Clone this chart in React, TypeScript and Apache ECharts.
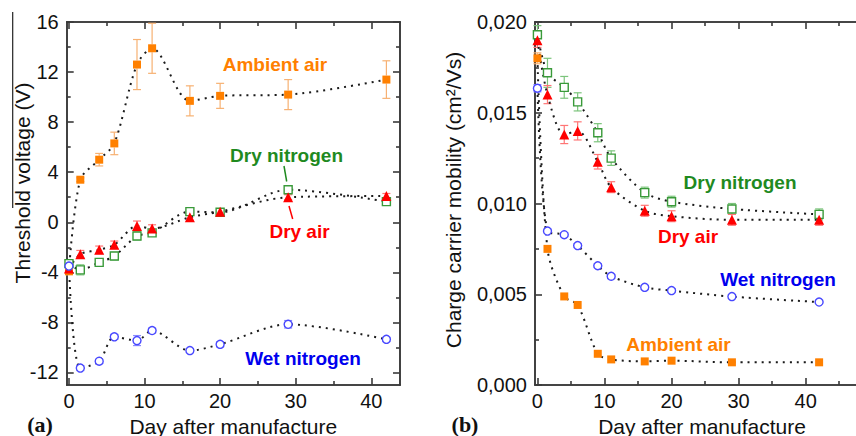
import React, { useEffect, useRef } from "react";
import * as echarts from "echarts";

// ---------- data ----------
const days = [0, 1.5, 4, 6, 9, 11, 16, 20, 29, 42];

// (a) threshold voltage (V)
const vthAmbient = [-3.9, 3.4, 5.0, 6.3, 12.6, 13.9, 9.7, 10.1, 10.2, 11.4];
const vthAmbientErr = [0.3, 0.15, 0.5, 0.9, 2.0, 2.0, 1.2, 1.0, 1.2, 1.5];
const vthDryN2 = [-3.3, -3.8, -3.2, -2.7, -1.1, -0.85, 0.85, 0.8, 2.6, 1.65];
const vthDryN2Err = [0.3, 0.4, 0.2, 0.3, 0.3, 0.2, 0.2, 0.2, 0.2, 0.2];
const vthDryAir = [-3.7, -2.55, -2.2, -1.8, -0.3, -0.5, 0.4, 0.85, 2.0, 2.1];
const vthDryAirErr = [0.3, 0.3, 0.3, 0.3, 0.4, 0.3, 0.3, 0.2, 0.2, 0.2];
const vthWetN2 = [-3.5, -11.65, -11.1, -9.15, -9.45, -8.65, -10.25, -9.75, -8.15, -9.35];
const vthWetN2Err = [0.3, 0.2, 0.15, 0.2, 0.4, 0.2, 0.15, 0.2, 0.3, 0.15];

// (b) charge carrier mobility (cm²/Vs)
const muAmbient = [0.018, 0.0075, 0.00488, 0.00441, 0.00172, 0.00141, 0.0013, 0.00134, 0.00125, 0.00125];
const muAmbientErr = [0.0003, 0, 0, 0, 0, 0, 0, 0, 0, 0];
const muWetN2 = [0.01635, 0.00848, 0.00828, 0.00768, 0.00657, 0.00599, 0.00538, 0.0052, 0.00487, 0.00457];
const muWetN2Err = [0.0002, 0.0001, 0.0001, 0.0001, 0.0001, 0.0001, 0.0001, 0.0001, 0.0001, 0];
const muDryN2 = [0.0193, 0.0172, 0.0164, 0.0156, 0.0139, 0.0125, 0.0106, 0.0101, 0.0097, 0.0094];
const muDryN2Err = [0.0005, 0.0008, 0.0006, 0.0005, 0.0005, 0.0004, 0.0003, 0.0003, 0.0003, 0.0003];
const muDryAir = [0.019, 0.016, 0.0138, 0.014, 0.0123, 0.0109, 0.0096, 0.0093, 0.0091, 0.0091];
const muDryAirErr = [0.0004, 0.0005, 0.0005, 0.0005, 0.0004, 0.0003, 0.0003, 0.0003, 0.0003, 0.0003];

// ticks
const xMajor = [0, 10, 20, 30, 40];
const xMinorA = [5, 15, 25, 35];
const xMinorB = [5, 15, 25, 35, 45];
const vthMajor = [-12, -8, -4, 0, 4, 8, 12, 16];
const vthMinor = [-10, -6, -2, 2, 6, 10, 14];
const muMajor = [0, 0.005, 0.01, 0.015, 0.02];
const muMinor = [0.0025, 0.0075, 0.0125, 0.0175];

const FONT = "Liberation Sans, Arial, sans-serif";
const AXIS = "#3a3a3a";

function axis(
  dim: "x" | "y",
  gridIndex: number,
  position: string,
  min: number,
  max: number,
  ticks: number[],
  len: number,
  labels: boolean,
  fmt?: (v: number) => string
) {
  return {
    type: "value",
    gridIndex,
    position,
    min,
    max,
    axisLine: { show: true, onZero: false, lineStyle: { color: AXIS, width: 1.6 } },
    axisTick: {
      show: true,
      inside: true,
      length: len,
      customValues: ticks,
      lineStyle: { color: AXIS, width: 1.6 },
    },
    axisLabel: {
      show: labels,
      customValues: ticks,
      fontSize: 20,
      fontFamily: FONT,
      color: "#111",
      margin: dim === "x" ? 6 : 8,
      formatter: fmt,
      showMinLabel: true,
      showMaxLabel: true,
    },
    splitLine: { show: false },
  };
}

function errSeries(xi: number, yi: number, vals: number[], errs: number[], color: string, half: number) {
  return {
    type: "custom",
    xAxisIndex: xi,
    yAxisIndex: yi,
    z: 2,
    silent: true,
    data: days.map((d, i) => [d, vals[i] - errs[i], vals[i] + errs[i], errs[i], vals[i]]),
    renderItem: (params: any, api: any) => {
      if (api.value(3) <= 0) return null;
      const lo = api.coord([api.value(0), api.value(1)]);
      const hi = api.coord([api.value(0), api.value(2)]);
      const c = api.coord([api.value(0), api.value(4)]);
      const cap = 4;
      const st = { stroke: color, lineWidth: 1.2 };
      const children: any[] = [
        { type: "line", shape: { x1: lo[0] - cap, y1: lo[1], x2: lo[0] + cap, y2: lo[1] }, style: st },
        { type: "line", shape: { x1: hi[0] - cap, y1: hi[1], x2: hi[0] + cap, y2: hi[1] }, style: st },
      ];
      if (lo[1] > c[1] + half) {
        children.push({ type: "line", shape: { x1: lo[0], y1: lo[1], x2: lo[0], y2: c[1] + half }, style: st });
      }
      if (hi[1] < c[1] - half) {
        children.push({ type: "line", shape: { x1: hi[0], y1: hi[1], x2: hi[0], y2: c[1] - half }, style: st });
      }
      return { type: "group", children };
    },
  };
}

function lineSeries(
  xi: number,
  yi: number,
  vals: number[],
  symbol: string,
  size: number,
  fill: string,
  border: string
) {
  return {
    type: "line",
    xAxisIndex: xi,
    yAxisIndex: yi,
    z: 3,
    smooth: 0.3,
    data: days.map((d, i) => [d, vals[i]]),
    symbol,
    symbolSize: size,
    showSymbol: true,
    itemStyle: { color: fill, borderColor: border, borderWidth: fill === "#ffffff" ? 1.4 : 0 },
    lineStyle: { color: "#1a1a1a", width: 2, type: [2, 5] },
  };
}

const ORANGE = "#ff8000";
const ORANGE_E = "#f7b172";
const GREEN = "#3a9a3a";
const GREEN_E = "#7cc47c";
const RED = "#ff0000";
const RED_E = "#ff7575";
const BLUE = "#4848ff";
const BLUE_E = "#8a8aff";
const WHITE = "#ffffff";

export default function App() {
  const ref = useRef<HTMLDivElement>(null);
  useEffect(() => {
    if (!ref.current) return;
    const chart = echarts.init(ref.current, undefined, { renderer: "svg" });
    const aMin = -0.3,
      aMax = 43.8,
      bMin = -0.36,
      bMax = 47.5;
    const vMin = -13,
      vMax = 16;
    const muFmt = (v: number) => v.toFixed(3).replace(".", ",");
    const vFmt = (v: number) => String(Math.round(v));
    const xFmt = (v: number) => String(Math.round(v));

    const option: any = {
      animation: false,
      backgroundColor: "#ffffff",
      grid: [
        { left: 66.7, top: 22, width: 333.3, height: 363 },
        { left: 535, top: 22, width: 335, height: 363 },
      ],
      xAxis: [
        axis("x", 0, "bottom", aMin, aMax, xMajor, 7, true, xFmt),
        axis("x", 0, "bottom", aMin, aMax, xMinorA, 4, false),
        axis("x", 0, "top", aMin, aMax, xMajor, 7, false),
        axis("x", 0, "top", aMin, aMax, xMinorA, 4, false),
        axis("x", 1, "bottom", bMin, bMax, xMajor, 7, true, xFmt),
        axis("x", 1, "bottom", bMin, bMax, xMinorB, 4, false),
        axis("x", 1, "top", bMin, bMax, xMajor, 7, false),
        axis("x", 1, "top", bMin, bMax, xMinorB, 4, false),
      ],
      yAxis: [
        axis("y", 0, "left", vMin, vMax, vthMajor, 7, true, vFmt),
        axis("y", 0, "left", vMin, vMax, vthMinor, 4, false),
        axis("y", 0, "right", vMin, vMax, vthMajor, 7, false),
        axis("y", 0, "right", vMin, vMax, vthMinor, 4, false),
        axis("y", 1, "left", 0, 0.02, muMajor, 7, true, muFmt),
        axis("y", 1, "left", 0, 0.02, muMinor, 4, false),
      ],
      series: [
        errSeries(0, 0, vthAmbient, vthAmbientErr, ORANGE_E, 4),
        errSeries(0, 0, vthDryN2, vthDryN2Err, GREEN_E, 4),
        errSeries(0, 0, vthDryAir, vthDryAirErr, RED_E, 4),
        errSeries(0, 0, vthWetN2, vthWetN2Err, BLUE_E, 4),
        lineSeries(0, 0, vthAmbient, "rect", 8, ORANGE, ORANGE),
        lineSeries(0, 0, vthDryN2, "rect", 8, WHITE, GREEN),
        lineSeries(0, 0, vthDryAir, "triangle", 10, RED, RED),
        lineSeries(0, 0, vthWetN2, "circle", 8, WHITE, BLUE),

        errSeries(4, 4, muAmbient, muAmbientErr, ORANGE_E, 4),
        errSeries(4, 4, muDryN2, muDryN2Err, GREEN_E, 4),
        errSeries(4, 4, muDryAir, muDryAirErr, RED_E, 4),
        errSeries(4, 4, muWetN2, muWetN2Err, BLUE_E, 4),
        lineSeries(4, 4, muAmbient, "rect", 8, ORANGE, ORANGE),
        lineSeries(4, 4, muDryN2, "rect", 8, WHITE, GREEN),
        lineSeries(4, 4, muDryAir, "triangle", 10, RED, RED),
        lineSeries(4, 4, muWetN2, "circle", 8, WHITE, BLUE),
      ],
      graphic: [
        // scan artifact line near left title
        { type: "line", shape: { x1: 12.7, y1: 12, x2: 12.7, y2: 208 }, style: { stroke: "#222", lineWidth: 1.2 } },
        // axis titles
        {
          type: "text",
          x: 22,
          y: 183,
          rotation: Math.PI / 2,
          style: {
            text: "Threshold voltage (V)",
            fontSize: 21,
            fontFamily: FONT,
            fill: "#111",
            textAlign: "center",
            textVerticalAlign: "middle",
          },
        },
        {
          type: "text",
          x: 453,
          y: 200,
          rotation: Math.PI / 2,
          style: {
            text: "Charge carrier mobility (cm²/Vs)",
            fontSize: 21,
            fontFamily: FONT,
            fill: "#111",
            textAlign: "center",
            textVerticalAlign: "middle",
          },
        },
        {
          type: "text",
          x: 233.3,
          y: 426,
          style: { text: "Day after manufacture", fontSize: 21, fontFamily: FONT, fill: "#111", textAlign: "center", textVerticalAlign: "middle" },
        },
        {
          type: "text",
          x: 702,
          y: 426,
          style: { text: "Day after manufacture", fontSize: 21, fontFamily: FONT, fill: "#111", textAlign: "center", textVerticalAlign: "middle" },
        },
        {
          type: "text",
          x: 40,
          y: 424,
          style: { text: "(a)", fontSize: 22, fontWeight: "bold", fontFamily: "Liberation Serif, Times New Roman, serif", fill: "#111", textAlign: "center", textVerticalAlign: "middle" },
        },
        {
          type: "text",
          x: 465,
          y: 424,
          style: { text: "(b)", fontSize: 22, fontWeight: "bold", fontFamily: "Liberation Serif, Times New Roman, serif", fill: "#111", textAlign: "center", textVerticalAlign: "middle" },
        },
        // panel (a) labels
        { type: "text", x: 275, y: 64, style: { text: "Ambient air", fontSize: 19, fontWeight: "bold", fontFamily: FONT, fill: ORANGE, textAlign: "center", textVerticalAlign: "middle" } },
        { type: "text", x: 286.5, y: 155, style: { text: "Dry nitrogen", fontSize: 19, fontWeight: "bold", fontFamily: FONT, fill: "#1f8a1f", textAlign: "center", textVerticalAlign: "middle" } },
        { type: "line", shape: { x1: 284, y1: 166, x2: 286.7, y2: 181.5 }, style: { stroke: "#1f8a1f", lineWidth: 1.5 } },
        { type: "text", x: 299.5, y: 231, style: { text: "Dry air", fontSize: 19, fontWeight: "bold", fontFamily: FONT, fill: RED, textAlign: "center", textVerticalAlign: "middle" } },
        { type: "line", shape: { x1: 289, y1: 206, x2: 292.7, y2: 219 }, style: { stroke: RED, lineWidth: 1.5 } },
        { type: "text", x: 303, y: 358, style: { text: "Wet nitrogen", fontSize: 19, fontWeight: "bold", fontFamily: FONT, fill: "#0000ee", textAlign: "center", textVerticalAlign: "middle" } },
        // panel (b) labels
        { type: "text", x: 740, y: 182, style: { text: "Dry nitrogen", fontSize: 19, fontWeight: "bold", fontFamily: FONT, fill: "#1f8a1f", textAlign: "center", textVerticalAlign: "middle" } },
        { type: "text", x: 688, y: 236, style: { text: "Dry air", fontSize: 19, fontWeight: "bold", fontFamily: FONT, fill: RED, textAlign: "center", textVerticalAlign: "middle" } },
        { type: "text", x: 778, y: 279, style: { text: "Wet nitrogen", fontSize: 19, fontWeight: "bold", fontFamily: FONT, fill: "#0000ee", textAlign: "center", textVerticalAlign: "middle" } },
        { type: "text", x: 678.5, y: 344, style: { text: "Ambient air", fontSize: 19, fontWeight: "bold", fontFamily: FONT, fill: ORANGE, textAlign: "center", textVerticalAlign: "middle" } },
      ],
    };
    chart.setOption(option);
    return () => chart.dispose();
  }, []);
  return (
    <div
      ref={ref}
      style={{ position: "fixed", left: 0, top: 0, width: 856, height: 436, background: "#fff" }}
    />
  );
}
